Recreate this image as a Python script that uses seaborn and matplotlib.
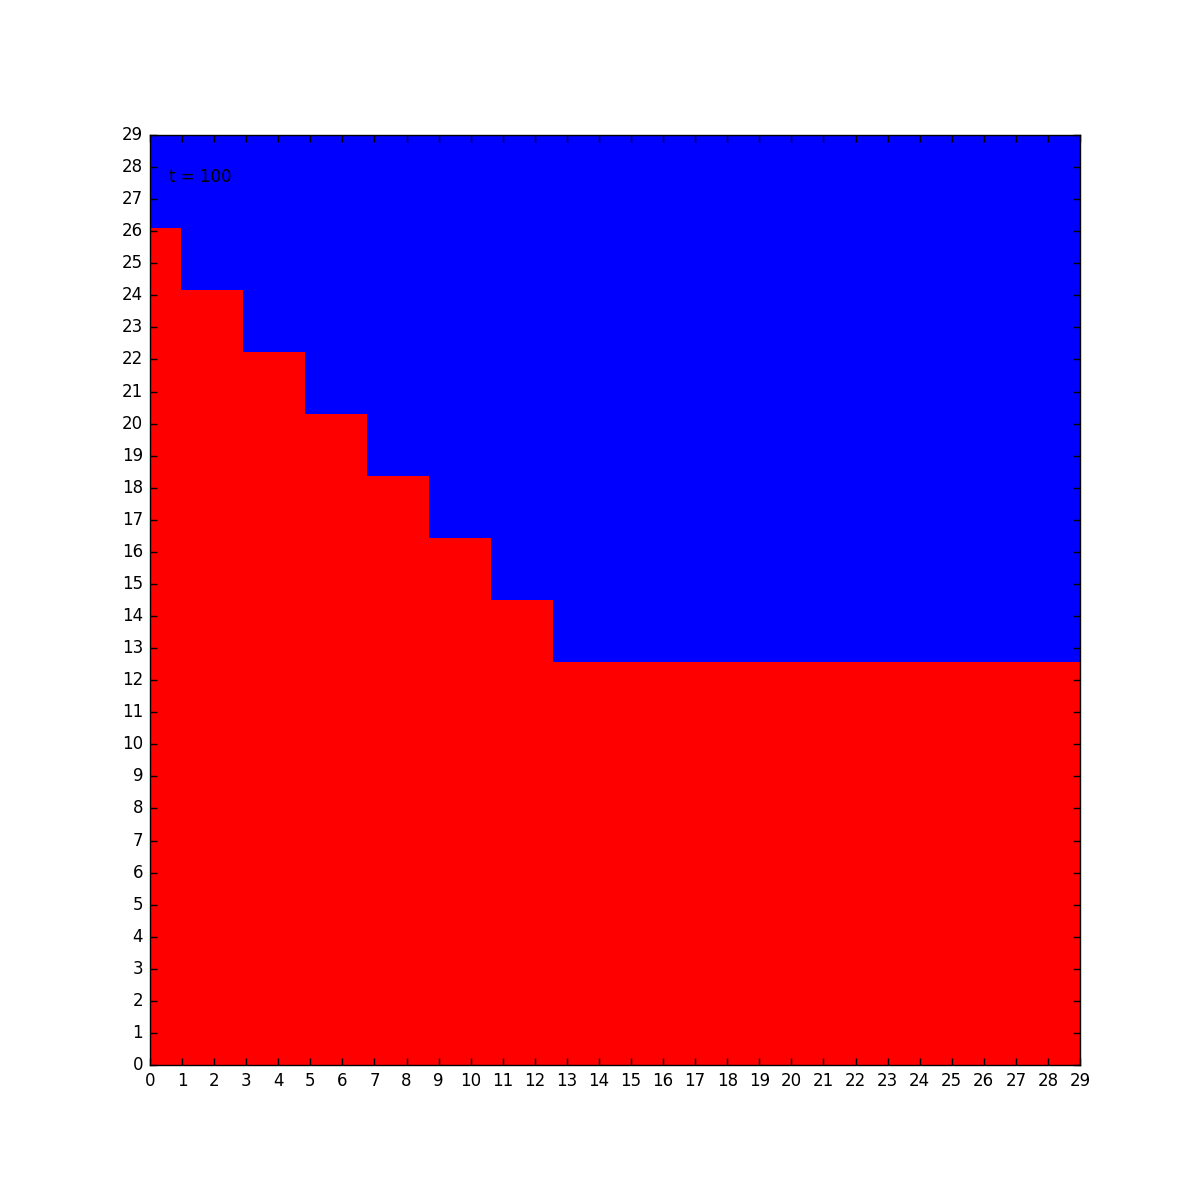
import numpy as np
import matplotlib
matplotlib.use("Agg")
import matplotlib.pyplot as plt
import seaborn as sns
from matplotlib.colors import ListedColormap

# Grid state at t = 100: number of red cells (from the bottom) in each column
n_cells = 30
red_heights = [27, 25, 25, 23, 23, 21, 21, 19, 19, 17, 17, 15, 15,
               13, 13, 13, 13, 13, 13, 13, 13, 13, 13, 13, 13, 13, 13, 13, 13, 13]
tick_labels = list(range(30))
time_label = "t = 100"

# Build grid: 1 = red, 0 = blue (row 0 at bottom)
rows = np.arange(n_cells)[:, None]
grid = (rows < np.array(red_heights)[None, :]).astype(int)

sns.set_style("white", rc={"axes.edgecolor": "black", "text.color": "black",
                           "xtick.color": "black", "ytick.color": "black",
                           "axes.labelcolor": "black", "axes.axisbelow": False})
plt.rcParams["font.family"] = ["DejaVu Sans"]

fig = plt.figure(figsize=(12, 12), dpi=100)
ax = fig.add_axes([0.125, 0.1, 0.775, 0.8])

sns.heatmap(grid, ax=ax, cmap=ListedColormap(["#0000ff", "#ff0000"]),
            vmin=0, vmax=1, cbar=False, square=True, linewidths=0,
            xticklabels=False, yticklabels=False)
ax.set_ylim(0, n_cells)
ax.set_xlim(0, n_cells)
ax.set_axisbelow(False)

# tick positions map label k to k*30/29 (extent 0..29 over 30 cells)
pos = [k * n_cells / (n_cells - 1) for k in tick_labels]
ax.set_xticks(pos)
ax.set_xticklabels([str(k) for k in tick_labels], rotation=0, fontsize=12, color="black")
ax.set_yticks(pos)
ax.set_yticklabels([str(k) for k in tick_labels], rotation=0, fontsize=12, va="center", color="black")

ax.tick_params(direction="in", length=5, width=1, color="black",
               top=True, right=True, bottom=True, left=True, pad=5)

for sp in ax.spines.values():
    sp.set_visible(True)
    sp.set_color("black")
    sp.set_linewidth(1)
    sp.set_zorder(3)

ax.text(0.02, 0.95, time_label, transform=ax.transAxes, fontsize=12, color="black")

fig.savefig("out.png", dpi=100)
plt.close(fig)
